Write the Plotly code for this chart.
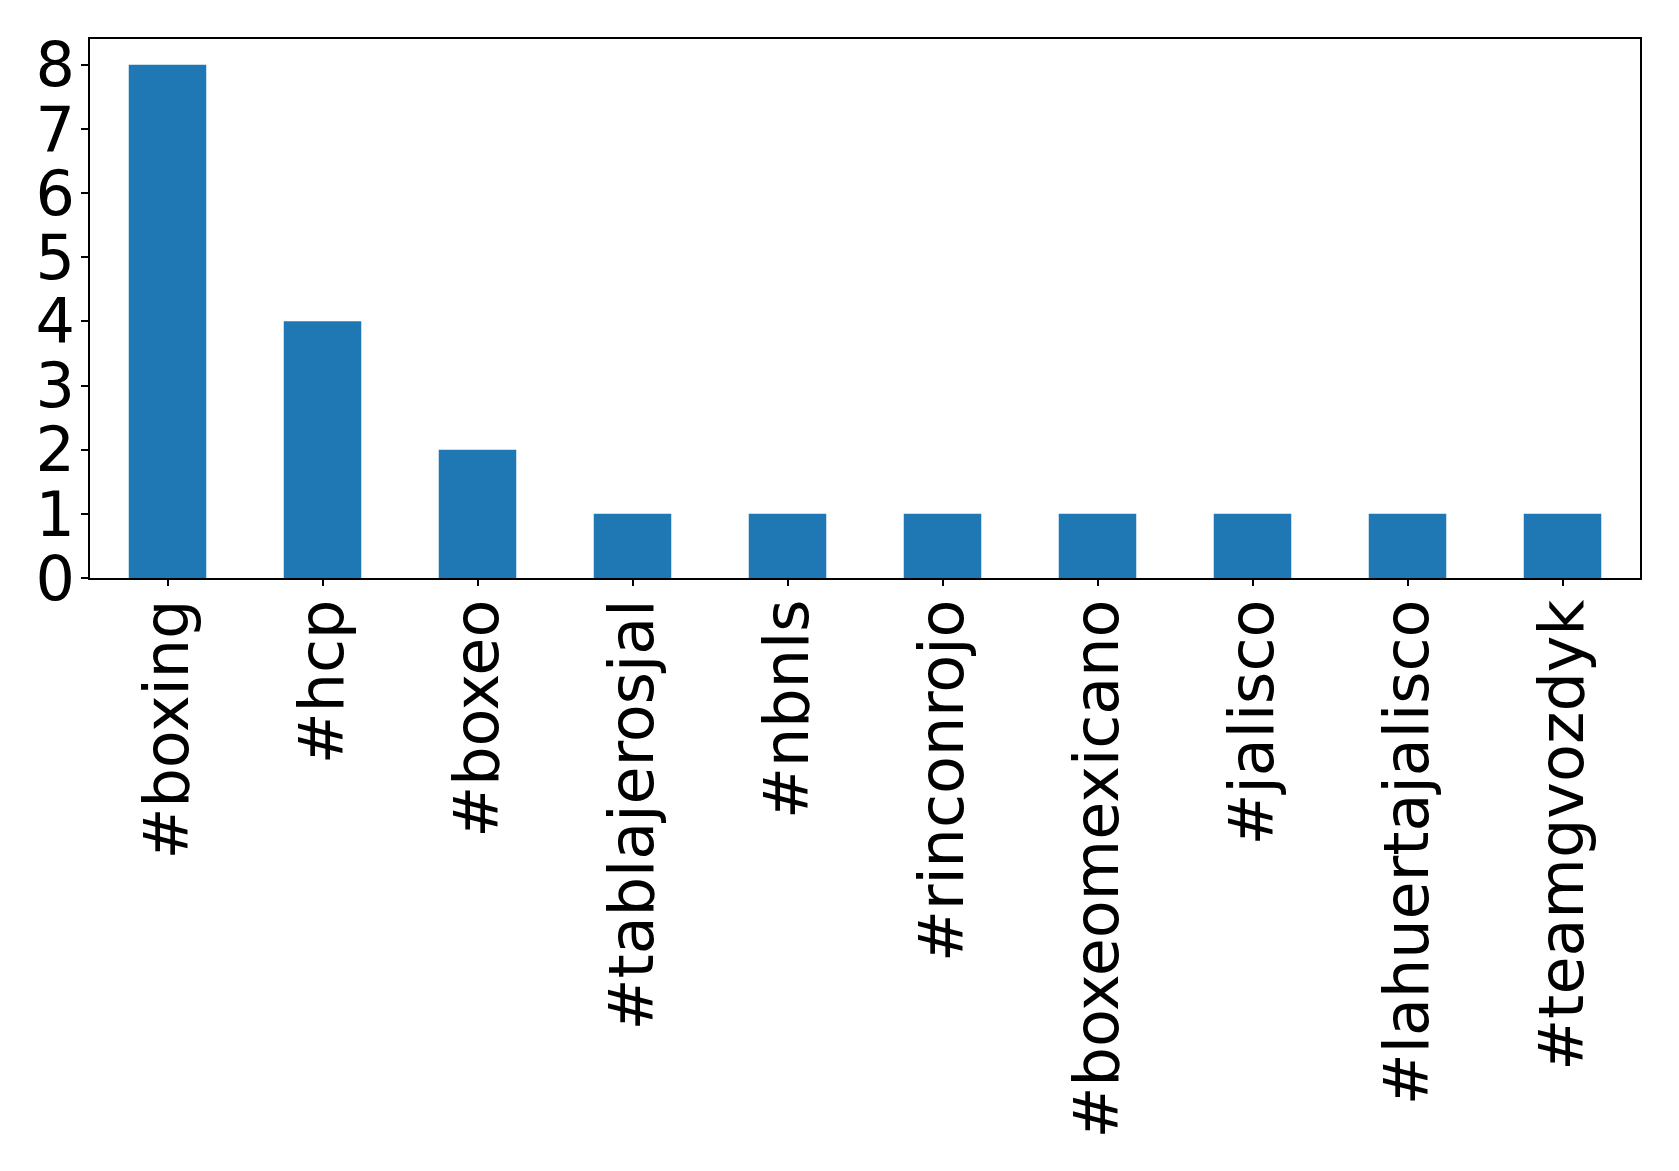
import plotly.graph_objects as go

categories = ["#boxing", "#hcp", "#boxeo", "#tablajerosjal", "#nbnls", "#rinconrojo",
              "#boxeomexicano", "#jalisco", "#lahuertajalisco", "#teamgvozdyk"]
values = [8, 4, 2, 1, 1, 1, 1, 1, 1, 1]
ytick_vals = [0, 1, 2, 3, 4, 5, 6, 7, 8]

fig = go.Figure(go.Bar(x=categories, y=values, width=0.5, marker=dict(color="#1f77b4", line=dict(width=0))))

# page body has an 8px margin; compensate so the plot area lands where the reference has it
fig.update_layout(
    width=1663, height=1155,
    margin=dict(l=82, r=31, t=31, b=585, autoexpand=False),
    paper_bgcolor="white", plot_bgcolor="white",
    font=dict(family="DejaVu Sans", size=62, color="black"),
    showlegend=False,
)
fig.update_xaxes(type="category", range=[-0.5, 9.5], tickangle=-90, automargin=False,
                 showline=True, linecolor="black", linewidth=1.5, mirror=True,
                 ticks="outside", ticklen=6, tickwidth=1.5, tickcolor="black",
                 ticklabelstandoff=-11,
                 showgrid=False, zeroline=False, tickfont=dict(size=62))
fig.update_yaxes(range=[0, 8.4], tickvals=ytick_vals, automargin=False,
                 showline=True, linecolor="black", linewidth=1.5, mirror=True,
                 ticks="outside", ticklen=7, tickwidth=1.5, tickcolor="black",
                 ticklabelstandoff=-6,
                 showgrid=False, zeroline=False, tickfont=dict(size=62))

fig.write_html("out.html")
